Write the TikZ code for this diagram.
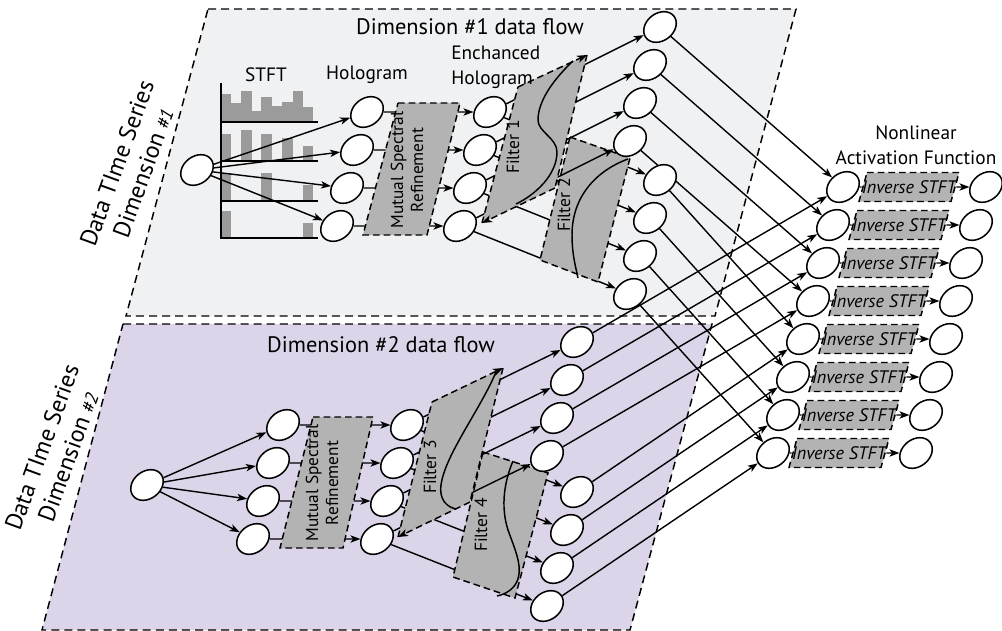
\documentclass[tikz,border=0pt]{standalone}
\usepackage{fontspec}
\setmainfont{PT Sans}
\usetikzlibrary{shapes.geometric,arrows.meta}
\pgfdeclarelayer{bg}
\pgfdeclarelayer{lnA}
\pgfdeclarelayer{fltB}
\pgfdeclarelayer{lnB}
\pgfdeclarelayer{boxes}
\pgfsetlayers{bg,lnA,fltB,lnB,boxes,main}
\definecolor{panelA}{HTML}{F0F1F3}
\definecolor{panelB}{HTML}{DCD4E8}
\definecolor{boxgray}{HTML}{B3B3B3}
\definecolor{bargray}{HTML}{9B9B9B}
\begin{document}
\begin{tikzpicture}[x=0.75pt,y=-0.75pt,
  >={Stealth[length=7.5pt,width=5.5pt,inset=2pt]},
  ell/.style={ellipse,draw,fill=white,line width=1.15pt,minimum width=26.5pt,minimum height=20.5pt,inner sep=0pt,rotate=38},
  conn/.style={line width=1.05pt},
  arr/.style={conn,->},
  pdash/.style={line width=1.1pt,dash pattern=on 6pt off 3.8pt},
  bdash/.style={line width=1.1pt,dash pattern=on 5pt off 3pt},
  curv/.style={line width=1.1pt},
  ttl/.style={font=\fontsize{16.8}{20}\selectfont,inner sep=0pt},
  lbl/.style={font=\fontsize{14.5}{18.5}\selectfont,align=center,inner sep=0pt},
  sidelbl/.style={font=\fontsize{18}{21}\selectfont,align=center,inner sep=0pt,rotate=70},
  boxtxt/.style={font=\fontsize{13}{15}\selectfont,align=center,inner sep=0pt,rotate=90},
  flttxt/.style={font=\fontsize{13.2}{15}\selectfont,inner sep=0pt,rotate=90},
  invtxt/.style={font=\fontsize{13.6}{15}\selectfont\itshape,inner sep=0pt,minimum width=69pt,minimum height=21.75pt},
]
\useasboundingbox (0,0) rectangle (1002,631);

% ---------------- nodes ----------------
\node[ell] (inA) at (197,170) {};
\node[ell] (inB) at (147,485) {};
\foreach \i in {1,...,4}{
  \pgfmathtruncatemacro\j{\i+4}
  \node[ell] (hA\i) at ({367-10*(\i-1)},{112+38*(\i-1)}) {};
  \node[ell] (eA\i) at ({490-10*(\i-1)},{112+38*(\i-1)}) {};
  \node[ell] (hB\i) at ({283-10*(\i-1)},{425+38*(\i-1)}) {};
  \node[ell] (eB\i) at ({407-10*(\i-1)},{425+38*(\i-1)}) {};
  \node[ell] (nA\i) at ({660-10*(\i-1)},{27+38*(\i-1)}) {};
  \node[ell] (nA\j) at ({660-10*(\i-1)},{180+38*(\i-1)}) {};
  \node[ell] (nB\i) at ({577-10*(\i-1)},{342+38*(\i-1)}) {};
  \node[ell] (nB\j) at ({577-10*(\i-1)},{492+38*(\i-1)}) {};
}
\foreach \k in {1,...,8}{
  \node[ell] (f\k) at ({843-10*(\k-1)},{187+38*(\k-1)}) {};
  \node[invtxt] (inv\k) at ({909-10*(\k-1)},{187+38*(\k-1)}) {Inverse STFT};
  \node[ell] (o\k) at ({986-10*(\k-1)},{187+38*(\k-1)}) {};
}

% ---------------- labels ----------------
\node[ttl] (tA) at (470,27) {Dimension \#1 data flow};
\node[ttl] (tB) at (381,345) {Dimension \#2 data flow};
\node[lbl] (stft) at (266,75) {STFT};
\node[lbl] (holo) at (367,75) {Hologram};
\node[lbl,align=left,anchor=west] (ehol) at (451,67.5) {Enchanced\\Hologram};
\node[lbl] (nlaf) at (916,145) {Nonlinear\\Activation Function};
\node[sidelbl] (sA) at (130,168) {Data TIme Series\\Dimension {\itshape\fontsize{14}{14}\selectfont\#1}};
\node[sidelbl] (sB) at (55,452) {Data TIme Series\\Dimension {\itshape\fontsize{14}{14}\selectfont\#2}};
\node[boxtxt] (msrA) at (407,170) {Mutual Spectral\\Refinement};
\node[boxtxt] (msrB) at (322,483) {Mutual Spectral\\Refinement};
\node[flttxt] (flt1) at (513,147) {Filter 1};
\node[flttxt] (flt2) at (564,205) {Filter 2};
\node[flttxt] (flt3) at (430,467) {Filter 3};
\node[flttxt] (flt4) at (481,525) {Filter 4};

% ---------------- background ----------------
\begin{pgfonlayer}{bg}
\draw[pdash,fill=panelA] (208,9) -- (796,9) -- (715,316) -- (126,316) -- cycle;
\draw[pdash,fill=panelB] (123,324) -- (712,324) -- (630,630) -- (42,630) -- cycle;
% STFT chart
\foreach \a/\b/\t in {222/231/94,231/241/103,241/252/91,252/261/111,261/272/97,272/282/106,282/293/102,293/303/91,303/313/107}
  {\fill[bargray] (\a,\t) rectangle (\b,122);}
\foreach \a/\b/\t in {222/231/134,241/252/130,261/272/134,282/293/138,303/313/146}
  {\fill[bargray] (\a,\t) rectangle (\b,161);}
\foreach \a/\b/\t in {222/231/173,261/272/173,303/313/185}
  {\fill[bargray] (\a,\t) rectangle (\b,201);}
\foreach \a/\b/\t in {222/231/211,303/313/223}
  {\fill[bargray] (\a,\t) rectangle (\b,238);}
\draw[line width=1.2pt] (221,83) -- (221,238.5);
\foreach \y in {122,161,201,238} {\draw[line width=1.2pt] (221,\y) -- (318,\y);}
\end{pgfonlayer}

% ---------------- connectors (lower) ----------------
\begin{pgfonlayer}{lnA}
\foreach \i in {1,...,4}{
  \pgfmathtruncatemacro\j{\i+4}
  \draw[arr] (inA) -- (hA\i);
  \draw[arr] (hA\i) -- (eA\i);
  \draw[arr] (eA\i) -- (nA\j);
  \draw[arr] (inB) -- (hB\i);
  \draw[arr] (hB\i) -- (eB\i);
  \draw[arr] (eB\i) -- (nB\j);
}
\foreach \k in {1,...,8}{
  \draw[arr] (nA\k) -- (f\k);
  \draw[arr] (nB\k) -- (f\k);
  \draw[conn] (f\k) -- (inv\k);
  \draw[arr] (inv\k) -- (o\k);
}
\end{pgfonlayer}

% ---------------- filters 2 and 4 ----------------
\begin{pgfonlayer}{fltB}
\draw[bdash,fill=boxgray] (570,137) -- (630,158) -- (598,282) -- (540,260) -- cycle;
\draw[curv] (628,159) .. controls (598,170) and (572,195) .. (572,235) .. controls (572,255) and (576,268) .. (578,278);
\draw[bdash,fill=boxgray] (483,452) -- (548,473) -- (515,598) -- (453,577) -- cycle;
\draw[curv] (513,461) .. controls (505,480) and (500,505) .. (508,530) .. controls (515,550) and (525,570) .. (515,585) .. controls (510,592) and (502,595) .. (497,596);
\end{pgfonlayer}

% ---------------- connectors (upper) ----------------
\begin{pgfonlayer}{lnB}
\foreach \i in {1,...,4}{
  \draw[arr] (eA\i) -- (nA\i);
  \draw[arr] (eB\i) -- (nB\i);
}
\end{pgfonlayer}

% ---------------- boxes ----------------
\begin{pgfonlayer}{boxes}
% MSR
\draw[bdash,fill=boxgray] (398,103) -- (460,103) -- (427,235) -- (363,235) -- cycle;
\draw[bdash,fill=boxgray] (313,417) -- (373,417) -- (343,548) -- (280,548) -- cycle;
% Filter 1
\fill[boxgray] (518,87) -- (587,55) -- (555,188) -- (482,223) -- cycle;
\draw[bdash,->] (555,188) -- (482,223);
\draw[bdash] (482,223) -- (518,87);
\draw[bdash,->] (518,87) -- (587,55);
\draw[bdash] (587,55) -- (555,188);
\draw[curv] (573,61) .. controls (555,78) and (538,100) .. (538,120) .. controls (538,132) and (557,138) .. (557,152) .. controls (557,175) and (535,195) .. (516,204);
% Filter 3
\fill[boxgray] (432,402) -- (503,368) -- (470,502) -- (398,537) -- cycle;
\draw[bdash,->] (470,502) -- (398,537);
\draw[bdash] (398,537) -- (432,402);
\draw[bdash,->] (432,402) -- (503,368);
\draw[bdash] (503,368) -- (470,502);
\draw[curv] (496,372) .. controls (480,410) and (445,455) .. (441,485) .. controls (439,500) and (447,507) .. (456,509);
% Inverse STFT boxes
\foreach \k in {1,...,8}{
  \draw[bdash,fill=boxgray] ([shift={(-42,-14.5)}]inv\k.center) -- ([shift={(50,-14.5)}]inv\k.center)
     -- ([shift={(42,14.5)}]inv\k.center) -- ([shift={(-50,14.5)}]inv\k.center) -- cycle;
}
\end{pgfonlayer}
\end{tikzpicture}
\end{document}
